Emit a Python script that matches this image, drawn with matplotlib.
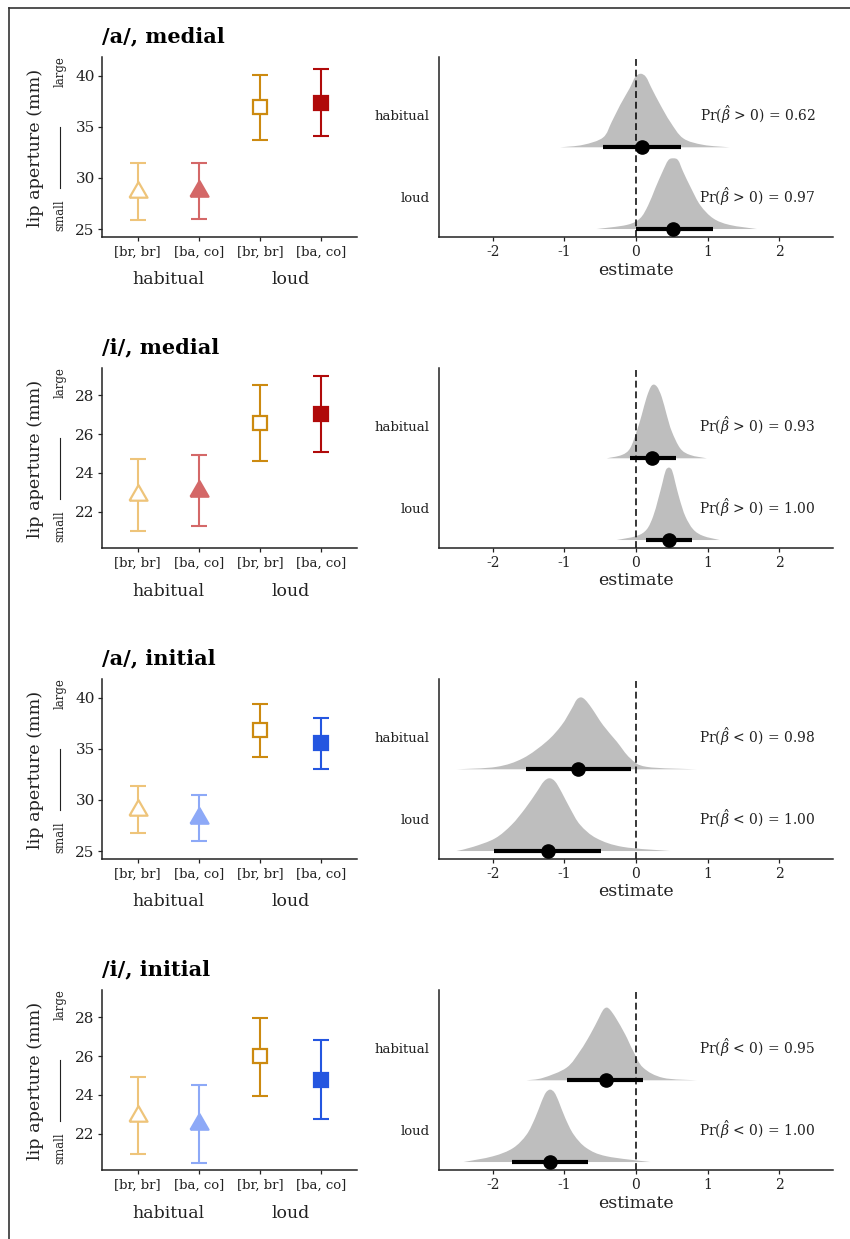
import matplotlib
matplotlib.use("Agg")
import matplotlib.pyplot as plt
from matplotlib.lines import Line2D
from matplotlib.path import Path
from matplotlib.patches import PathPatch
import numpy as np

W, H = 850, 1239
DPI = 100
ROW_DY = 311

plt.rcParams["font.family"] = ["DejaVu Serif"]
plt.rcParams["mathtext.fontset"] = "dejavuserif"

# ----- data ------------------------------------------------------------------

titles = ["/a/, medial", "/i/, medial", "/a/, initial", "/i/, initial"]
conditions = ["[br, br]", "[ba, co]", "[br, br]", "[ba, co]"]
groups = ["habitual", "loud"]

# left panels: mean and interval per condition (hab br, hab ba, loud br, loud ba)
a_medial_mean = [28.64, 28.74, 36.90, 37.38]
a_medial_lower = [25.85, 25.98, 33.68, 34.13]
a_medial_upper = [31.43, 31.50, 40.03, 40.62]

i_medial_mean = [22.87, 23.08, 26.58, 27.03]
i_medial_lower = [21.01, 21.24, 24.61, 25.06]
i_medial_upper = [24.72, 24.92, 28.54, 28.99]

a_initial_mean = [29.04, 28.25, 36.80, 35.53]
a_initial_lower = [26.76, 26.02, 34.20, 33.00]
a_initial_upper = [31.33, 30.48, 39.35, 38.05]

i_initial_mean = [22.92, 22.50, 25.98, 24.79]
i_initial_lower = [20.94, 20.50, 23.95, 22.73]
i_initial_upper = [24.90, 24.49, 27.98, 26.85]

# right panels: posterior density outlines (x, scaled height)
a_medial_hab_x = [-1.06, -0.74, -0.46, -0.34, -0.22, -0.09, -0.01, 0.065, 0.14, 0.22, 0.34, 0.48, 0.66, 0.94, 1.31]
a_medial_hab_h = [0.0, 0.03, 0.12, 0.31, 0.52, 0.72, 0.86, 0.90, 0.86, 0.72, 0.52, 0.31, 0.11, 0.03, 0.0]
a_medial_loud_x = [-0.55, -0.13, 0.056, 0.17, 0.27, 0.37, 0.45, 0.52, 0.59, 0.66, 0.77, 0.90, 1.08, 1.31, 1.69]
a_medial_loud_h = [0.0, 0.05, 0.13, 0.29, 0.50, 0.70, 0.84, 0.865, 0.84, 0.70, 0.50, 0.29, 0.13, 0.05, 0.0]

i_medial_hab_x = [-0.41, -0.20, -0.084, 0.01, 0.08, 0.15, 0.22, 0.29, 0.36, 0.43, 0.50, 0.62, 0.76, 0.99]
i_medial_hab_h = [0.0, 0.04, 0.12, 0.33, 0.53, 0.75, 0.89, 0.88, 0.75, 0.53, 0.33, 0.12, 0.04, 0.0]
i_medial_loud_x = [-0.27, 0.01, 0.15, 0.24, 0.31, 0.37, 0.415, 0.46, 0.505, 0.55, 0.61, 0.69, 0.80, 0.94, 1.17]
i_medial_loud_h = [0.0, 0.05, 0.13, 0.29, 0.50, 0.70, 0.85, 0.886, 0.85, 0.70, 0.50, 0.29, 0.13, 0.05, 0.0]

a_initial_hab_x = [-2.51, -1.95, -1.58, -1.25, -1.04, -0.90, -0.83, -0.77, -0.71, -0.62, -0.46, -0.27, -0.08, 0.15, 0.85]
a_initial_hab_h = [0.0, 0.03, 0.135, 0.34, 0.54, 0.74, 0.85, 0.88, 0.85, 0.75, 0.54, 0.34, 0.135, 0.03, 0.0]
a_initial_loud_x = [-2.51, -2.28, -1.97, -1.74, -1.55, -1.39, -1.29, -1.21, -1.13, -1.04, -0.92, -0.78, -0.55, -0.18, 0.48]
a_initial_loud_h = [0.0, 0.05, 0.155, 0.32, 0.52, 0.72, 0.85, 0.89, 0.85, 0.72, 0.52, 0.32, 0.155, 0.05, 0.0]

i_initial_hab_x = [-1.53, -1.30, -0.97, -0.78, -0.64, -0.52, -0.46, -0.41, -0.36, -0.28, -0.15, -0.04, 0.10, 0.38, 0.85]
i_initial_hab_h = [0.0, 0.03, 0.155, 0.36, 0.56, 0.76, 0.86, 0.89, 0.86, 0.76, 0.56, 0.36, 0.155, 0.03, 0.0]
i_initial_loud_x = [-2.41, -2.00, -1.72, -1.53, -1.41, -1.32, -1.26, -1.20, -1.14, -1.08, -0.99, -0.87, -0.69, -0.41, 0.20]
i_initial_loud_h = [0.0, 0.07, 0.17, 0.335, 0.54, 0.74, 0.85, 0.886, 0.85, 0.74, 0.54, 0.335, 0.17, 0.07, 0.0]

# posterior point estimate and interval: [habitual, loud]
post_point = [[0.08, 0.52], [0.23, 0.46], [-0.81, -1.23], [-0.42, -1.20]]
post_lower = [[-0.46, 0.00], [-0.08, 0.14], [-1.54, -1.98], [-0.96, -1.74]]
post_upper = [[0.625, 1.07], [0.56, 0.78], [-0.07, -0.49], [0.10, -0.67]]
post_prob = [["> 0) = 0.62", "> 0) = 0.97"],
             ["> 0) = 0.93", "> 0) = 1.00"],
             ["< 0) = 0.98", "< 0) = 1.00"],
             ["< 0) = 0.95", "< 0) = 1.00"]]

# ----- assemble per row ------------------------------------------------------

left_data = [
    (a_medial_mean, a_medial_lower, a_medial_upper),
    (i_medial_mean, i_medial_lower, i_medial_upper),
    (a_initial_mean, a_initial_lower, a_initial_upper),
    (i_initial_mean, i_initial_lower, i_initial_upper),
]
densities = [
    ((a_medial_hab_x, a_medial_hab_h), (a_medial_loud_x, a_medial_loud_h)),
    ((i_medial_hab_x, i_medial_hab_h), (i_medial_loud_x, i_medial_loud_h)),
    ((a_initial_hab_x, a_initial_hab_h), (a_initial_loud_x, a_initial_loud_h)),
    ((i_initial_hab_x, i_initial_hab_h), (i_initial_loud_x, i_initial_loud_h)),
]
y_limits = [(24.2, 41.8), (20.1, 29.4), (24.2, 41.8), (20.1, 29.4)]
y_ticks = [[25, 30, 35, 40], [22, 24, 26, 28], [25, 30, 35, 40], [22, 24, 26, 28]]

medial_colors = ["#EEC47A", "#D46868", "#CC8A10", "#B00A0A"]
initial_colors = ["#EEC47A", "#8DA9F7", "#CC8A10", "#2456E0"]
row_colors = [medial_colors, medial_colors, initial_colors, initial_colors]

TRI = [(-1.0, -0.577), (1.0, -0.577), (0.0, 1.155), (-1.0, -0.577)]
markers = [TRI, TRI, "s", "s"]
filled = [False, True, False, True]
marker_sizes = [15, 15, 9.5, 9.5]

INK = "#222222"
DENS = "#BEBEBE"


def px_axes(fig, left, top, right, bottom):
    return fig.add_axes([left / W, 1 - bottom / H, (right - left) / W, (bottom - top) / H])


def fy(py):
    return 1 - py / H


def style_spines(ax):
    for s in ["top", "right"]:
        ax.spines[s].set_visible(False)
    for s in ["left", "bottom"]:
        ax.spines[s].set_linewidth(1.1)
        ax.spines[s].set_color(INK)


def density_patch(xs, hs, base):
    """Smooth outline through the read points (Catmull-Rom drawn as cubic Beziers)."""
    p = np.column_stack([xs, base + np.asarray(hs, dtype=float)])
    n = len(p)
    verts = [(p[0, 0], base)]
    codes = [Path.MOVETO]
    for i in range(n - 1):
        p0 = p[max(i - 1, 0)]
        p1 = p[i]
        p2 = p[i + 1]
        p3 = p[min(i + 2, n - 1)]
        c1 = p1 + (p2 - p0) / 6.0
        c2 = p2 - (p3 - p1) / 6.0
        c1[1] = max(c1[1], base)
        c2[1] = max(c2[1], base)
        verts += [tuple(c1), tuple(c2), tuple(p2)]
        codes += [Path.CURVE4] * 3
    verts += [(p[0, 0], base), (p[0, 0], base)]
    codes += [Path.LINETO, Path.CLOSEPOLY]
    return PathPatch(Path(verts, codes), facecolor=DENS, edgecolor="none", zorder=1)


fig = plt.figure(figsize=(W / DPI, H / DPI), dpi=DPI)

for k in range(4):
    off = k * ROW_DY

    # title and y-axis label
    fig.text(101.7 / W, fy(36 + off), titles[k], ha="left", va="center",
             fontsize=15, fontweight="bold", color="black")
    fig.text(36 / W, fy(148 + off), "lip aperture (mm)", rotation=90,
             ha="center", va="center", fontsize=12.6, color=INK)
    fig.text(60 / W, fy(215 + off), "small", rotation=90, ha="center",
             va="center", fontsize=8.5, color=INK)
    fig.text(60 / W, fy(72 + off), "large", rotation=90, ha="center",
             va="center", fontsize=8.5, color=INK)
    fig.add_artist(Line2D([60 / W, 60 / W], [fy(127 + off), fy(188 + off)],
                          transform=fig.transFigure, color=INK, lw=0.8))

    # ---- left: point + interval
    ax = px_axes(fig, 101.7, 57.3 + off, 357, 237.3 + off)
    mean, lo, hi = left_data[k]
    xs = np.arange(1, 5)
    for i in range(4):
        c = row_colors[k][i]
        ax.errorbar(xs[i], mean[i], yerr=[[mean[i] - lo[i]], [hi[i] - mean[i]]],
                    fmt="none", ecolor=c, elinewidth=1.5, capsize=6, capthick=1.5, zorder=2)
        ax.plot(xs[i], mean[i], marker=markers[i], markersize=marker_sizes[i],
                markerfacecolor=c if filled[i] else "white", markeredgecolor=c,
                markeredgewidth=1.6, linestyle="none", zorder=3)
    ax.set_xlim(0.41, 4.59)
    ax.set_ylim(*y_limits[k])
    ax.set_yticks(y_ticks[k])
    ax.set_xticks(xs, conditions)
    ax.tick_params(axis="both", length=3, width=0.9, color=INK, labelcolor=INK)
    ax.tick_params(axis="x", labelsize=9.5, pad=3)
    ax.tick_params(axis="y", labelsize=11, pad=2)
    style_spines(ax)
    gy = -(280 - 237.3) / 180
    for g, gx in zip(groups, [1.5, 3.5]):
        ax.text(gx, gy, g, transform=ax.get_xaxis_transform(), ha="center",
                va="center", fontsize=12.5, color=INK)

    # ---- right: posterior densities
    ax2 = px_axes(fig, 439.3, 57 + off, 832.7, 236.7 + off)
    for j, base in enumerate([2, 1]):
        dx, dh = densities[k][j]
        ax2.add_patch(density_patch(dx, dh, base))
    ax2.axvline(0, color="black", lw=1.1, linestyle=(0, (4.5, 2.5)), zorder=2)
    for j, base in enumerate([2, 1]):
        ax2.plot([post_lower[k][j], post_upper[k][j]], [base, base], color="black",
                 lw=3, solid_capstyle="butt", zorder=3)
        ax2.plot(post_point[k][j], base, "o", color="black", markersize=9.5, zorder=4)
        ax2.text(1.70, base + 0.395, r"Pr($\hat{\beta}$ " + post_prob[k][j],
                 ha="center", va="center", fontsize=10, color=INK)
    ax2.set_xlim(-2.75, 2.75)
    ax2.set_ylim(0.906, 3.105)
    ax2.set_xticks([-2, -1, 0, 1, 2], ["-2", "-1", "0", "1", "2"])
    ax2.set_yticks([2.395, 1.395], groups)
    ax2.tick_params(axis="x", length=3, width=0.9, color=INK, labelcolor=INK,
                    labelsize=10, pad=3)
    ax2.tick_params(axis="y", length=0, labelcolor=INK, labelsize=9.5, pad=7)
    style_spines(ax2)
    ax2.text(0.5, -(270 - 236.7) / 179.7, "estimate", transform=ax2.transAxes,
             ha="center", va="center", fontsize=12.5, color=INK)

# frame lines of the original figure
fig.add_artist(Line2D([9 / W, 1.0], [fy(7.5), fy(7.5)], transform=fig.transFigure,
                      color="#333333", lw=1.2))
fig.add_artist(Line2D([9 / W, 9 / W], [fy(7.5), 0.0], transform=fig.transFigure,
                      color="#333333", lw=1.2))

fig.savefig("out.png", dpi=DPI)
